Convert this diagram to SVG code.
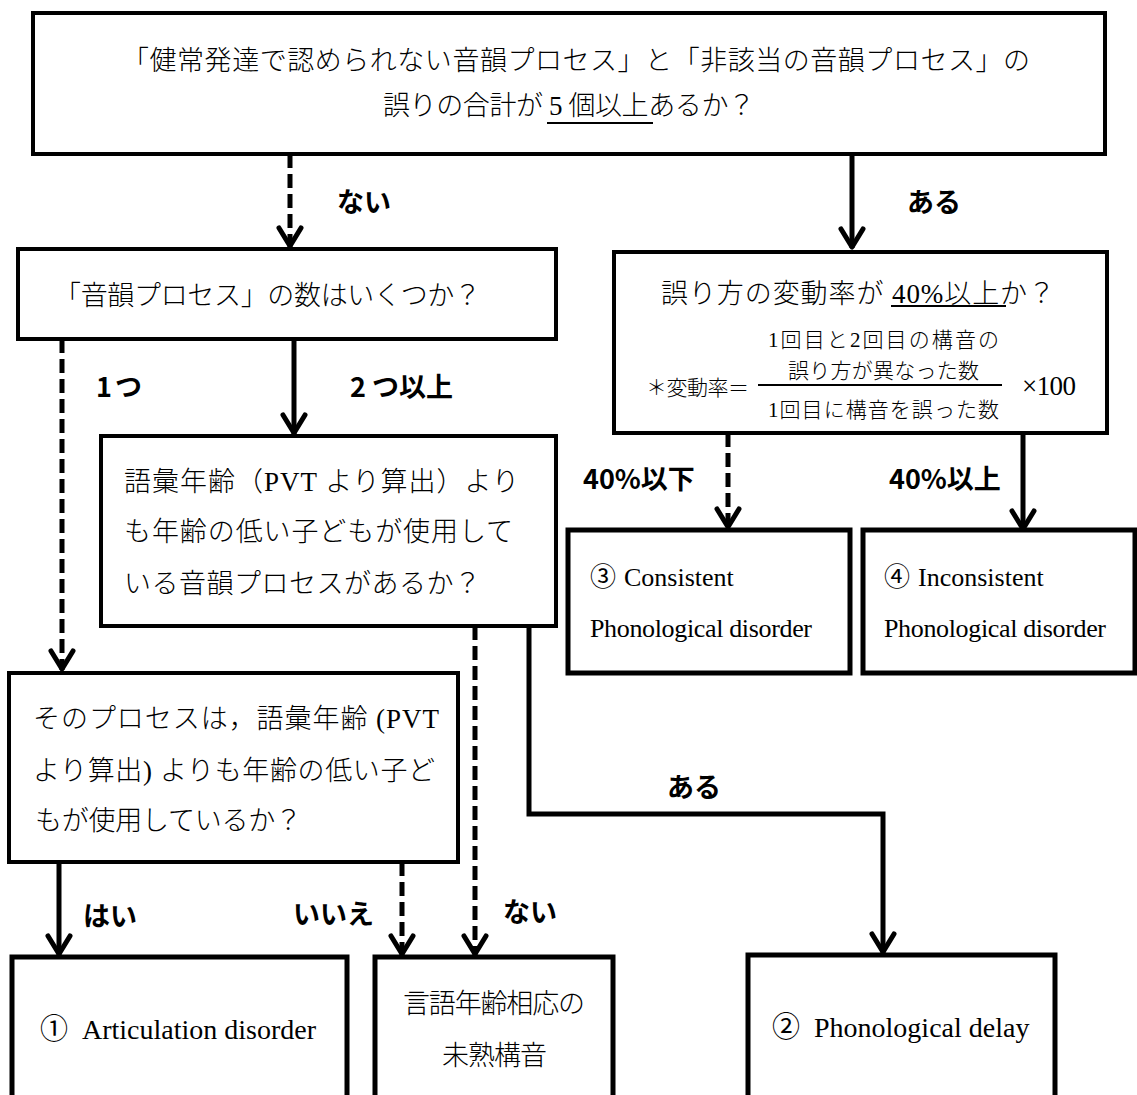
<svg xmlns="http://www.w3.org/2000/svg" width="1137" height="1095" viewBox="0 0 1137 1095">
<style>
.box{fill:#fff;stroke:#000;stroke-width:4}
.bx5{stroke-width:5}
.t{font-family:"Liberation Serif","Noto Sans CJK JP",serif;font-size:27px;font-weight:300;fill:#000}
.s{font-size:21px}
.e{font-size:26px;font-weight:normal}
.e2{font-size:28px;font-weight:normal}
.lbl{font-family:"Noto Sans CJK JP",sans-serif;font-weight:bold;font-size:27px;fill:#000}
.c{fill:none;stroke:#000;stroke-width:5;marker-end:url(#ah)}
.d{stroke-dasharray:14 6}
.ul{stroke:#000;stroke-width:2}
</style>
<defs>
<marker id="ah" markerUnits="userSpaceOnUse" markerWidth="30" markerHeight="30" viewBox="-26 -15 30 30" refX="0" refY="0" orient="auto">
<path d="M-19,-11 L-1,0 L-19,11" fill="none" stroke="#000" stroke-width="5" stroke-linecap="round" stroke-linejoin="round"/>
</marker>
</defs>
<rect width="1137" height="1095" fill="#fff"/>

<g id="connectors">
<path class="c d" d="M290,154 V247"/>
<path class="c" d="M852,154 V248"/>
<path class="c d" d="M62,339 V670"/>
<path class="c" d="M294,339 V434"/>
<path class="c d" d="M728,433 V528"/>
<path class="c" d="M1023,433 V530"/>
<path class="c d" d="M475,626 V955"/>
<path class="c" d="M529,626 V814 H883 V953"/>
<path class="c" d="M59,862 V955"/>
<path class="c d" d="M402,862 V955"/>
<text class="lbl" x="337" y="212">ない</text>
<text class="lbl" x="907" y="212">ある</text>
<text class="lbl" x="96" y="397" textLength="46">1つ</text>
<text class="lbl" x="350" y="397">2<tspan dx="6">つ以上</tspan></text>
<text class="lbl" x="583" y="489">40%以下</text>
<text class="lbl" x="889" y="489">40%以上</text>
<text class="lbl" x="667" y="797">ある</text>
<text class="lbl" x="503" y="922">ない</text>
<text class="lbl" x="83" y="926">はい</text>
<text class="lbl" x="293" y="924">いいえ</text>
</g>

<g id="n-top">
<rect class="box" x="33" y="13" width="1072" height="141"/>
<text class="t" x="122" y="70" textLength="908">「健常発達で認められない音韻プロセス」と「非該当の音韻プロセス」の</text>
<text class="t" x="383" y="115" textLength="372">誤りの合計が 5 個以上あるか？</text>
<line class="ul" x1="547" y1="123" x2="653" y2="123"/>
</g>

<g id="n-count">
<rect class="box" x="18" y="249" width="538" height="90"/>
<text class="t" x="54" y="305" textLength="427">「音韻プロセス」の数はいくつか？</text>
</g>

<g id="n-vocab">
<rect class="box" x="101" y="436" width="455" height="190"/>
<text class="t" x="124" y="491" textLength="395">語彙年齢（PVT より算出）より</text>
<text class="t" x="124" y="541" textLength="389">も年齢の低い子どもが使用して</text>
<text class="t" x="124" y="593" textLength="357">いる音韻プロセスがあるか？</text>
</g>

<g id="n-rate">
<rect class="box" x="614" y="252" width="493" height="181"/>
<text class="t" x="661" y="303" font-size="28" textLength="394">誤り方の変動率が 40%以上か？</text>
<line class="ul" x1="891" y1="306" x2="1006" y2="306"/>
<text class="t s" x="768" y="347" textLength="231">1回目と2回目の構音の</text>
<text class="t s" x="788" y="378" textLength="191">誤り方が異なった数</text>
<line class="ul" x1="758" y1="385" x2="1002" y2="385"/>
<text class="t s" x="768" y="417" textLength="231">1回目に構音を誤った数</text>
<text class="t s" x="646" y="395" textLength="103">＊変動率＝</text>
<text class="t" x="1022" y="395" font-size="23" textLength="54">×100</text>
</g>

<g id="n-consistent">
<rect class="box bx5" x="568" y="530" width="282" height="143"/>
<text class="t e" x="590" y="586">③<tspan dx="8">Consistent</tspan></text>
<text class="t e" x="590" y="637" textLength="222">Phonological disorder</text>
</g>

<g id="n-inconsistent">
<rect class="box bx5" x="863" y="530" width="272" height="143"/>
<text class="t e" x="884" y="586">④<tspan dx="8">Inconsistent</tspan></text>
<text class="t e" x="884" y="637" textLength="222">Phonological disorder</text>
</g>

<g id="n-single">
<rect class="box" x="9" y="673" width="449" height="189"/>
<text class="t" x="33" y="728" textLength="406">そのプロセスは，語彙年齢 (PVT</text>
<text class="t" x="33" y="780" textLength="402">より算出) よりも年齢の低い子ど</text>
<text class="t" x="35" y="830" textLength="267">もが使用しているか？</text>
</g>

<g id="n-articulation">
<rect class="box bx5" x="12" y="957" width="335" height="160"/>
<text class="t e2" x="40" y="1039">①<tspan dx="14">Articulation disorder</tspan></text>
</g>

<g id="n-immature">
<rect class="box bx5" x="375" y="957" width="238" height="160"/>
<text class="t" x="403" y="1013" textLength="182">言語年齢相応の</text>
<text class="t" x="442" y="1065" textLength="105">未熟構音</text>
</g>

<g id="n-delay">
<rect class="box bx5" x="748" y="955" width="307" height="160"/>
<text class="t e2" x="772" y="1037">②<tspan dx="14">Phonological delay</tspan></text>
</g>
</svg>
